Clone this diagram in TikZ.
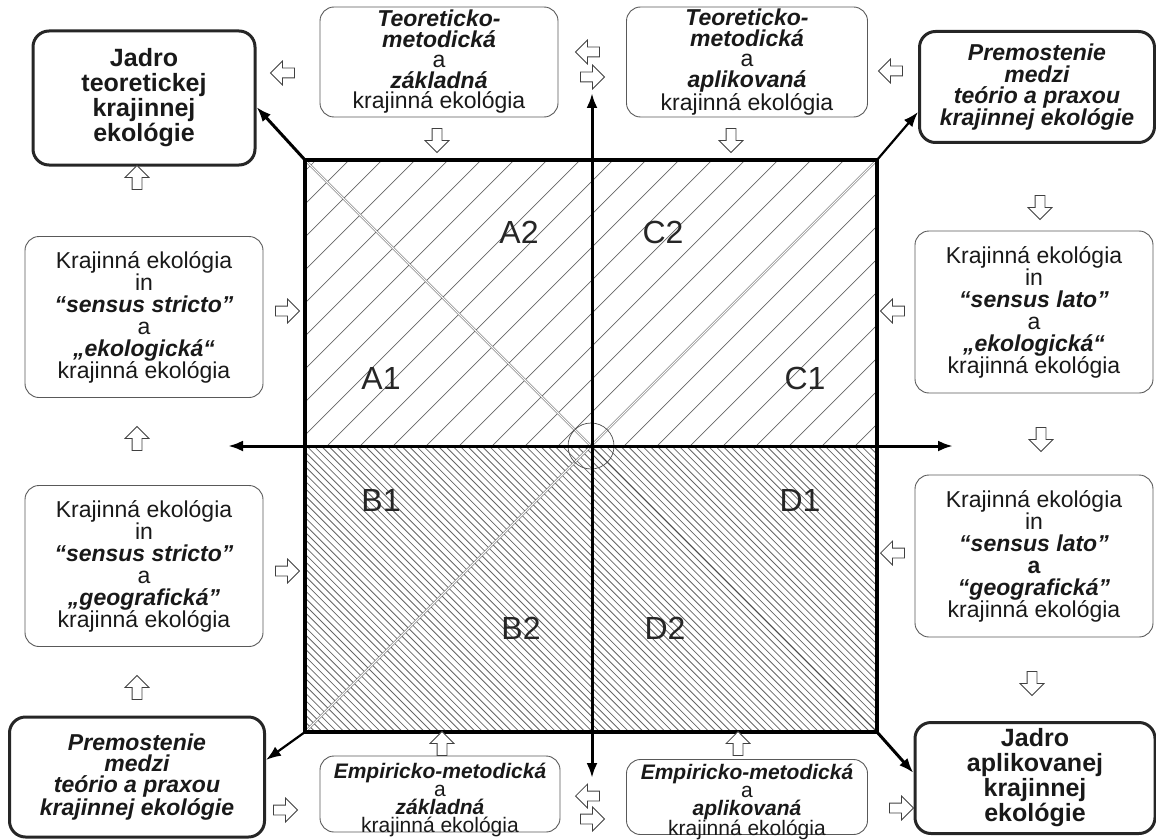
\documentclass[tikz,border=0pt]{standalone}
\usepackage{fontspec}
\setmainfont{Liberation Sans}
\usepackage{tikz}
\usetikzlibrary{arrows.meta, shapes.arrows}

\newcommand{\bik}[1]{\textbf{\textit{#1}}}

\begin{document}
\begin{tikzpicture}[x=1pt, y=-1pt,
		>={Latex[length=15pt,width=11pt]},   %Pfeilspitzen
		box/.style={draw=black!65, rounded corners=14pt, line width=0.9pt, align=center, inner sep=2pt, text=black!90, font=\fontsize{23}{22}\selectfont},
		kbox/.style={draw=black!85, rounded corners=16pt, line width=3pt, align=center, inner sep=2pt, text=black!90},
		hpf/.style={single arrow, draw=black!75, fill=white, line width=0.8pt, minimum height=24pt, minimum width=20pt, inner sep=4.5pt, shape border rotate=#1},
		schraffA/.style={black!60, line width=0.7pt},
		schraffB/.style={black!60, line width=0.8pt},
		diag/.style={draw=black!65, double=white, double distance=1.2pt, line width=0.6pt},
		achse/.style={line width=3pt},
		eck/.style={->, line width=3pt},
		qlab/.style={font=\fontsize{32}{32}\selectfont, text=black!85}]
		\useasboundingbox (0,0) rectangle (1156,840);
		%Quadrat
		\node[minimum width=572pt, minimum height=572pt, inner sep=0pt, outer sep=0pt] (sq) at (591,446) {};
		%Schraffur oben
		\begin{scope}
			\clip (sq.north west) rectangle (sq.east);
			\foreach \i in {-300,-267,...,900} \draw[schraffA] (\i,446) -- ++(300,-300);
		\end{scope}
		%Schraffur unten
		\begin{scope}
			\clip (sq.west) rectangle (sq.south east);
			\foreach \i in {0,7.3,...,900} \draw[schraffB] (\i,446) -- ++(300,300);
		\end{scope}
		%Diagonalen und Kreis
		\draw[diag] (sq.north west) -- (sq.center);
		\draw[diag] (sq.center) -- (sq.north east);
		\draw[diag] (sq.south west) -- (sq.center);
		\draw[black!70, line width=0.8pt] (sq.center) -- (sq.south east);
		\node[circle, draw=black!70, line width=0.7pt, minimum size=46pt] (ctr) at (sq.center) {};
		\draw[line width=4pt] (sq.north west) rectangle (sq.south east);
		%Achsen
		\coordinate (xl) at (228,446);
		\coordinate (xr) at (953,446);
		\coordinate (yt) at (592,93);
		\coordinate (yb) at (592,778);
		\draw[<->, achse] (xl) -- (xr);
		\draw[<->, achse] (yb) -- (yt);
		%Quadranten
		\node[qlab] (a2) at (519,232) {A2};
		\node[qlab] (c2) at (663,232) {C2};
		\node[qlab] (a1) at (381,378) {A1};
		\node[qlab] (c1) at (805,378) {C1};
		\node[qlab] (b1) at (381,500) {B1};
		\node[qlab] (d1) at (800,500) {D1};
		\node[qlab] (b2) at (521,628) {B2};
		\node[qlab] (d2) at (665,628) {D2};
		%Kästen oben
		\node[kbox, minimum width=222pt, minimum height=134pt, font=\bfseries\fontsize{25}{25}\selectfont] (jt) at (144,98) {Jadro\\teoretickej\\krajinnej\\ekológie};
		\node[box, minimum width=238pt, minimum height=110pt, font=\fontsize{23}{20.5}\selectfont] (tz) at (439,62) {\bik{Teoreticko-}\\\bik{metodická}\\a\\\bik{základná}\\krajinná ekológia};
		\node[box, minimum width=241pt, minimum height=110pt, font=\fontsize{23}{20.5}\selectfont] (ta) at (747,62) {\bik{Teoreticko-}\\\bik{metodická}\\a\\\bik{aplikovaná}\\krajinná ekológia};
		\node[kbox, minimum width=235pt, minimum height=111pt, font=\bfseries\itshape\fontsize{23}{21.7}\selectfont] (pt) at (1037,87) {Premostenie\\medzi\\teório a praxou\\krajinnej ekológie};
		%Kästen links
		\node[box, minimum width=238pt, minimum height=161pt] (ls) at (144,317) {Krajinná ekológia\\in\\\bik{“sensus stricto”}\\a\\\bik{„ekologická“}\\krajinná ekológia};
		\node[box, minimum width=238pt, minimum height=161pt] (lg) at (144,566) {Krajinná ekológia\\in\\\bik{“sensus stricto”}\\a\\\bik{„geografická”}\\krajinná ekológia};
		%Kästen rechts
		\node[box, minimum width=238pt, minimum height=162pt] (rl) at (1034,312) {Krajinná ekológia\\in\\\bik{“sensus lato”}\\a\\\bik{„ekologická“}\\krajinná ekológia};
		\node[box, minimum width=238pt, minimum height=162pt] (rg) at (1034,556) {Krajinná ekológia\\in\\\bik{“sensus lato”}\\\textbf{a}\\\bik{“geografická”}\\krajinná ekológia};
		%Kästen unten
		\node[kbox, minimum width=255pt, minimum height=120pt, font=\bfseries\itshape\fontsize{23}{21}\selectfont] (pb) at (137,777) {Premostenie\\medzi\\teório a praxou\\krajinnej ekológie};
		\node[box, minimum width=240pt, minimum height=76pt] (ez) at (440,794) {};
		\node[align=center, text=black!90, inner sep=0pt, font=\fontsize{21}{18}\selectfont] (ezt) at (440,800) {\bik{Empiricko-metodická}\\a\\\bik{základná}\\krajinná ekológia};
		\node[box, minimum width=241pt, minimum height=75pt] (ea) at (747,797) {};
		\node[align=center, text=black!90, inner sep=0pt, font=\fontsize{21}{18}\selectfont] (eat) at (747,802) {\bik{Empiricko-metodická}\\a\\\bik{aplikovaná}\\krajinná ekológia};
		\node[kbox, minimum width=240pt, minimum height=111pt, font=\bfseries\fontsize{25}{25}\selectfont] (ja) at (1035,778) {Jadro\\aplikovanej\\krajinnej\\ekológie};
		%Eckpfeile
		\draw[eck] (sq.north west) -- ([yshift=-9pt]jt.east);
		\draw[eck, line width=2.2pt] (sq.north east) -- ([yshift=-25pt]pt.west);
		\draw[eck, line width=2.2pt] (sq.south west) -- ([yshift=17pt]pb.east);
		\draw[eck] (sq.south east) -- ([yshift=5pt]ja.west);
		%Hohlpfeile
		\node[hpf=180] (h1) at (285,73) {};
		\node[hpf=180] (h2) at (590,52) {};
		\node[hpf=0] (h3) at (590,77) {};
		\node[hpf=180] (h4) at (893,71) {};
		\node[hpf=270] (h5) at (437,138) {};
		\node[hpf=270] (h6) at (731,138) {};
		\node[hpf=90] (h7) at (137,180) {};
		\node[hpf=90] (h8) at (137,441) {};
		\node[hpf=90] (h9) at (137,690) {};
		\node[hpf=0] (h10) at (285,311) {};
		\node[hpf=0] (h11) at (285,571) {};
		\node[hpf=270] (h12) at (1040,205) {};
		\node[hpf=270] (h13) at (1041,437) {};
		\node[hpf=270] (h14) at (1032,681) {};
		\node[hpf=180] (h15) at (895,311) {};
		\node[hpf=180] (h16) at (895,553) {};
		\node[hpf=90] (h17) at (442,746) {};
		\node[hpf=90] (h18) at (738,746) {};
		\node[hpf=180] (h19) at (590,796) {};
		\node[hpf=0] (h20) at (590,819) {};
		\node[hpf=0] (h21) at (283,810) {};
		\node[hpf=0] (h22) at (899,808) {};
	\end{tikzpicture}
\end{document}
